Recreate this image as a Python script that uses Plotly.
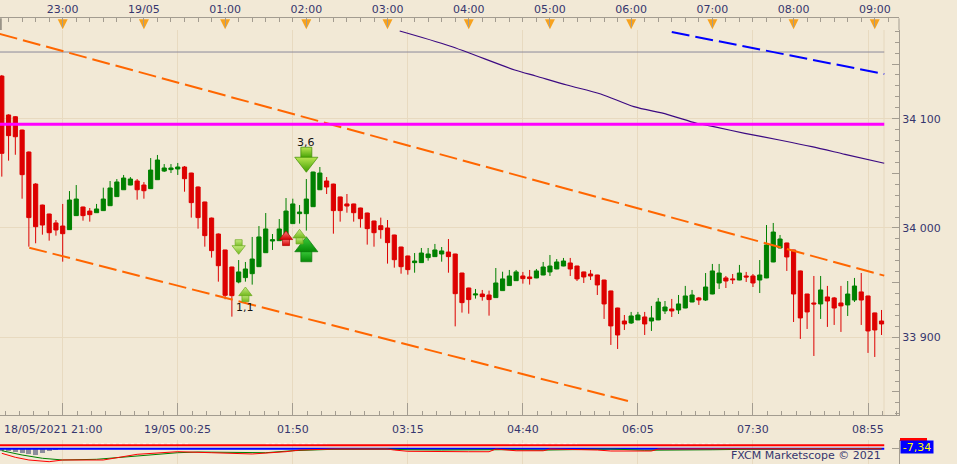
import plotly.graph_objects as go

# ---------------- data ----------------
opens = [34139, 34103.4, 34101.8, 34089.6, 34069.5, 34040.2, 34021, 34012.8, 34004.6, 34001.8,
         33998.5, 34011.3, 34019.2, 34015.5, 34014, 34015.9, 34020.4, 34028.7, 34035, 34039.3,
         34043, 34039.3, 34036, 34044.2, 34052.1, 34053.4, 34054, 34055.8, 34050.3, 34037.5,
         34023.8, 34009.1, 33994.5, 33979.9, 33964.3, 33950.6, 33954.6, 33958.2, 33964.6, 33977.4,
         33988.1, 33988.4, 33993, 34004, 34013.1, 34013.1, 34019.5, 34035, 34043, 34040.2,
         34028.4, 34022, 34022, 34018.3, 34013.7, 34006.4, 34002.1, 34000, 33993.6, 33982.6,
         33974.4, 33968.3, 33968.3, 33972.9, 33973.8, 33976.2, 33978, 33976.2, 33958.8, 33945.1,
         33938.7, 33939.6, 33938.7, 33936.3, 33942.7, 33947.3, 33951.8, 33956.1, 33955.2, 33954.3,
         33957, 33959.8, 33962.5, 33965.2, 33968, 33965.2, 33959.8, 33957.9, 33957, 33952.4,
         33942.4, 33926.8, 33914.9, 33913.1, 33915.9, 33918.6, 33914.9, 33915.9, 33924.1, 33925.9,
         33925, 33926.8, 33932.3, 33936, 33934.1, 33939.6, 33949.7, 33954.3, 33953.4, 33952.4,
         33956.1, 33956.1, 33952.4, 33954.3, 33968.9, 33981.7, 33986.3, 33979.9, 33960.7, 33939.6,
         33931.4, 33930.5, 33936.9, 33936, 33931.4, 33929.6, 33934.1, 33941.5, 33937.8, 33922.3,
         33914.9]
highs = [34140, 34104, 34102.4, 34090, 34070, 34041, 34021.3, 34013, 34007.3, 34022,
         34033.8, 34039.3, 34019.5, 34018.3, 34022, 34036.9, 34043, 34044.8, 34048.5, 34046.6,
         34044.8, 34042, 34064, 34066.8, 34058.5, 34058.5, 34059.5, 34056.7, 34050.5, 34038,
         34024, 34009.5, 33995, 33980, 33964.5, 33970.7, 33968.9, 33991.8, 34001.8, 34013.7,
         33994.5, 34008.2, 34027.4, 34026.8, 34021, 34044.8, 34051.5, 34055.8, 34046.6, 34040.5,
         34028.6, 34031.1, 34022.2, 34018.5, 34014, 34006.6, 34009.5, 34007.3, 33993.8, 33982.8,
         33974.6, 33977.1, 33981.7, 33981.7, 33985.4, 33982.6, 33989.9, 33976.4, 33959, 33945.3,
         33944.2, 33943.3, 33942.7, 33963.4, 33960, 33961.6, 33961.6, 33959.8, 33961.6, 33962.5,
         33968.9, 33975.3, 33971.6, 33972.6, 33972.6, 33965.4, 33960, 33961.6, 33957.2, 33952.6,
         33942.6, 33927, 33920.4, 33923.2, 33923.2, 33923.2, 33928.7, 33936, 33933.2, 33935.1,
         33938.7, 33947, 33943.3, 33936.9, 33958.8, 33967.1, 33967.1, 33956.1, 33957.9, 33966.2,
         33959.8, 33957.9, 33970.7, 34002.7, 34004.6, 33993.6, 33986.5, 33980, 33961, 33939.7,
         33956.1, 33956.1, 33947, 33936.9, 33947, 33951.5, 33954.3, 33958.8, 33938, 33922.5,
         33925]
lows = [34047, 34061.6, 34067, 34026.8, 33982.9, 33986, 33993.9, 33988.4, 33993, 33969.2,
        33998.2, 34011, 34006.7, 34005.8, 34013.8, 34015.6, 34020.2, 34028.5, 34034.8, 34039.1,
        34025.9, 34026.8, 34035.8, 34044, 34051.2, 34050.3, 34048.5, 34033.2, 34009.5, 33999.4,
        33982.9, 33972.9, 33950.9, 33934.8, 33918.9, 33949.4, 33950.9, 33948.2, 33964.4, 33977.2,
        33979.9, 33988.2, 33992.8, 34003.8, 34004, 33997.6, 34019.3, 34034.8, 34031.1, 33994.8,
        34005.8, 34014, 34005.8, 34000.3, 33984.8, 33982.9, 33990.2, 33967.4, 33963.7, 33958.2,
        33957.3, 33959.1, 33968.1, 33970.1, 33973.6, 33969.2, 33959.1, 33910, 33922.6, 33921.6,
        33935.4, 33933.5, 33919.8, 33936.1, 33942.5, 33947.1, 33951.6, 33949.1, 33948.2, 33954.1,
        33956.8, 33956.1, 33962.3, 33965, 33956.1, 33951.5, 33949.7, 33952.4, 33938.7, 33916.8,
        33893, 33889.3, 33906.7, 33912.2, 33915.7, 33902.1, 33905.8, 33915.7, 33921.3, 33918.6,
        33921.3, 33926.6, 33932.1, 33929.6, 33933.2, 33939.4, 33944.2, 33945.1, 33948.8, 33952.2,
        33950.6, 33946, 33940.5, 33954.1, 33968.7, 33981.5, 33960.7, 33914, 33898.5, 33907.6,
        33882.9, 33916.8, 33909.5, 33911.3, 33904.9, 33919.5, 33932.3, 33911.3, 33885.7, 33882,
        33902.1]
closes = [34068.3, 34084.5, 34083.5, 34048.8, 34009.5, 34001.2, 34002.7, 33995.7, 33998.2, 33994.8,
          34025.6, 34026.5, 34011.3, 34012.2, 34017.4, 34026.5, 34036.6, 34042.1, 34045.7, 34044.8,
          34035, 34034.1, 34053, 34062.2, 34054.9, 34054.9, 34055.8, 34045.1, 34023.2, 34009.5,
          33993, 33979.3, 33965.5, 33938.4, 33938.1, 33959.8, 33962.5, 33971.6, 33991.8, 33999.1,
          33989.3, 33999.1, 34015.5, 34022, 34014.6, 34026.5, 34051.2, 34050.3, 34037.5, 34015.9,
          34015.9, 34020.1, 34014, 34008.5, 33999.4, 33995.7, 33998.5, 33986.6, 33971, 33964.6,
          33961.9, 33969.8, 33977.1, 33976.2, 33979.9, 33979, 33973.8, 33939.9, 33931.7, 33934.5,
          33939.6, 33937.2, 33934.5, 33949.7, 33953.4, 33956.1, 33959.8, 33953.7, 33953.7, 33960.7,
          33964.3, 33965.2, 33968.9, 33969.8, 33962.5, 33953.4, 33955.2, 33956.1, 33947.9, 33930.5,
          33910.4, 33902.1, 33912.2, 33919.5, 33920.4, 33912.2, 33917.7, 33932.3, 33927.7, 33924.1,
          33930.5, 33937.8, 33938.7, 33934.1, 33946, 33960.7, 33958.8, 33951.5, 33952.7, 33958.8,
          33955.2, 33949.7, 33957, 33984.5, 33996.3, 33989.9, 33973.5, 33939.6, 33917.7, 33923.2,
          33930.5, 33943.3, 33933.2, 33926.8, 33928.7, 33939.6, 33946.9, 33934.1, 33905.8, 33906.7,
          33912.2]
candle_idx = list(range(len(opens)))

top_tick_idx = [9, 21, 33, 45, 57, 69, 81, 93, 105, 117, 129]
top_tick_text = ['23:00', '19/05', '01:00', '02:00', '03:00', '04:00',
                 '05:00', '06:00', '07:00', '08:00', '09:00']
bottom_tick_idx = [9, 26, 43, 60, 77, 94, 111, 128]
bottom_tick_text = ['18/05/2021 21:00', '19/05 00:25', '01:50', '03:15',
                    '04:40', '06:05', '07:30', '08:55']
price_tick_vals = [33850, 33900, 33950, 34000, 34050, 34100, 34150]
price_tick_text = ['', '33 900', '', '34 000', '', '34 100', '']
price_grid_vals = [33900, 34000, 34100]

channel_top_x = [-0.3, 130.4]
channel_top_y = [34177.6, 33956.4]
channel_bot_x = [4.06, 93.1]
channel_bot_y = [33982.0, 33840.8]
pivot_level = 34095.0
upper_level = 34161.0
level_x = [-0.3, 130.4]
ma_x = [58.8, 66.2, 75.8, 78.9, 83.5, 88.5, 93.4, 98.3, 102.7, 105.2, 109.8, 114.9, 119.7, 124.6, 130.4]
ma_y = [34180.2, 34166.5, 34144.6, 34139.1, 34130.8, 34122.6, 34111, 34104, 34095.8,
        34092.7, 34086.6, 34080.5, 34074.4, 34067.4, 34059.2]
blue_x = [99.0, 130.4]
blue_y = [34179.3, 34140.9]

# signals (tip price at candle index)
sig_idx = [45, 45, 44, 42, 36, 35]
sig_tip = [34051.0, 33992.0, 33998.8, 33997.3, 33946.0, 33975.9]
sig_dir = ['down', 'up', 'up', 'up', 'up', 'down']
sig_big = [True, True, False, False, False, False]
sig_label = ['3,6', '', '', '', '1,1', '']
sig_top = ['#B8E650', '#3CCB3C', '#C8EC80', '#FF8080', '#C8EC80', '#C8EC80']
sig_bot = ['#3E9E00', '#068A06', '#72B81E', '#D00000', '#72B81E', '#72B81E']
sig_edge = ['#3C8C00', '#087808', '#6AA820', '#B00000', '#6AA820', '#6AA820']

# indicator panel
panel_red_level = 0.0
panel_blue_level = -7.34
green_idx = [0, 3, 6, 9, 14, 20, 26, 29, 39, 43, 47, 49, 57, 60, 65, 70, 75, 80, 85, 90, 95, 100, 105, 110, 115, 120, 130]
green_val = [-11.4, -20.2, -26.9, -30.4, -29, -22.2, -15.5, -14.1, -15.5, -11.4, -10, -8.5, -8,
             -9.5, -10, -9.5, -9.3, -10.2, -9, -8, -10.5, -10.5, -9.5, -8.5, -7.6, -7.5, -7.5]
red_idx = [0, 2, 4, 7, 9, 15, 20, 26, 31, 37, 42, 44, 49, 57, 58, 60, 69, 72, 73, 76, 80, 81, 88, 90, 96, 97, 105, 130]
red_val = [-16.7, -24.9, -30.4, -33.9, -30.4, -30.4, -18.8, -13.4, -15.5, -18.1, -13.4, -10, -8,
           -8, -10, -12.6, -13.5, -13.5, -8, -11.5, -11.5, -8, -10, -12, -12, -8, -7.5, -7.5]
hist_idx = [0, 1, 2, 3, 4, 5, 6, 7, 8]
hist_val = [-4, -5, -6, -9, -11, -13, -8, -4, -3]
white_idx = [12, 28, None, 39, 48, None, 75, 85, None, 99, 108]
white_val = [2, 2, None, 2, 2, None, 2, 2, None, 2, 2]

# ---------------- layout geometry (pixels) ----------------
W, H = 957, 464
X_AXIS_R = 899
Y_TOPAXIS = 18.3
Y_TOP, Y_BOT = 30, 415
PANEL_TOP = 440
x_range = [-0.266, 132.58]
y_range = [33828.9, 34181.15]
panel_range = [-38.6, 10.5]
PPU = (Y_BOT - Y_TOP) / (y_range[1] - y_range[0])

BG = '#F2E9D6'
GRID = '#E8DAC0'
AX = '#A39C90'
TXT = '#36366E'
FONT = 'DejaVu Sans'
UP, DN = '#008000', '#DD0000'

fig = go.Figure()

# panel
fig.add_trace(go.Bar(x=hist_idx, y=hist_val, base=panel_blue_level, width=0.75,
                     marker=dict(color='#8C8C9C', line=dict(width=0)), xaxis='x', yaxis='y3'))
fig.add_trace(go.Scatter(x=white_idx, y=white_val, mode='lines', line=dict(color='white', width=1.5, dash='dot'),
                         xaxis='x', yaxis='y3'))
fig.add_trace(go.Scatter(x=level_x, y=[panel_red_level] * 2, mode='lines', line=dict(color='#FF0000', width=2),
                         xaxis='x', yaxis='y3'))
fig.add_trace(go.Scatter(x=level_x, y=[panel_blue_level] * 2, mode='lines', line=dict(color='#0000FF', width=2),
                         xaxis='x', yaxis='y3'))
fig.add_trace(go.Scatter(x=green_idx, y=green_val, mode='lines', line=dict(color='#008000', width=1),
                         xaxis='x', yaxis='y3'))
fig.add_trace(go.Scatter(x=red_idx, y=red_val, mode='lines', line=dict(color='#FF0000', width=1),
                         xaxis='x', yaxis='y3'))

# invisible anchor trace so that the grid axis is drawn
fig.add_trace(go.Scatter(x=[candle_idx[0]], y=[price_grid_vals[1]], mode='markers', marker=dict(opacity=0),
                         hoverinfo='skip', xaxis='x', yaxis='y4'))

# main lines
fig.add_trace(go.Scatter(x=level_x, y=[upper_level] * 2, mode='lines', line=dict(color='#8C8A9A', width=1)))
fig.add_trace(go.Scatter(x=ma_x, y=ma_y, mode='lines',
                         line=dict(color='#3C0A82', width=1.2, shape='spline', smoothing=0.8)))
fig.add_trace(go.Scatter(x=blue_x, y=blue_y, mode='lines', line=dict(color='#0000FF', width=2, dash='18px,6px')))
fig.add_trace(go.Scatter(x=channel_top_x, y=channel_top_y, mode='lines',
                         line=dict(color='#FF6600', width=2, dash='18px,6px')))
fig.add_trace(go.Scatter(x=channel_bot_x, y=channel_bot_y, mode='lines',
                         line=dict(color='#FF6600', width=2, dash='18px,6px')))

fig.add_trace(go.Candlestick(x=candle_idx, open=opens, high=highs, low=lows, close=closes,
                             increasing=dict(line=dict(color=UP, width=1), fillcolor=UP),
                             decreasing=dict(line=dict(color=DN, width=1), fillcolor=DN),
                             whiskerwidth=0, hoverinfo='skip'))
fig.add_trace(go.Scatter(x=level_x, y=[pivot_level] * 2, mode='lines', line=dict(color='#FF00FF', width=3)))

# signal arrows
for k in range(len(sig_idx)):
    s = 20 if sig_big[k] else 11.5
    q = 11 if sig_big[k] else 7
    r = s / 2
    d = 1 if sig_dir[k] == 'up' else -1
    head_c = sig_tip[k] - d * r / PPU
    shaft_c = sig_tip[k] - d * (1.5 * r + q / 2 - 1) / PPU
    grad = dict(type='vertical', color=sig_bot[k])
    fig.add_trace(go.Scatter(x=[sig_idx[k]], y=[shaft_c], mode='markers',
                             marker=dict(symbol='square', size=q, color=sig_top[k], gradient=grad,
                                         line=dict(width=0.7, color=sig_edge[k]))))
    fig.add_trace(go.Scatter(x=[sig_idx[k]], y=[head_c], mode='markers',
                             marker=dict(symbol='triangle-' + sig_dir[k], size=s, color=sig_top[k], gradient=grad,
                                         line=dict(width=0.7, color=sig_edge[k]))))
    if sig_label[k]:
        off = 30 if sig_dir[k] == 'down' else -20
        fig.add_annotation(x=sig_idx[k], y=sig_tip[k], xref='x', yref='y', text=sig_label[k],
                           showarrow=False, yshift=off, font=dict(family=FONT, size=11, color='#151515'))

# hour markers on the top time axis
fig.add_trace(go.Scatter(x=top_tick_idx, y=[29.3] * len(top_tick_idx), mode='markers',
                         marker=dict(symbol='arrow-down', size=10, color='#F7A21E', line=dict(width=0)),
                         hoverinfo='skip', cliponaxis=False, xaxis='x3', yaxis='y5'))

xd = X_AXIS_R / W
fig.update_layout(
    width=W, height=H, margin=dict(l=0, r=0, t=0, b=0, autoexpand=False),
    paper_bgcolor=BG, plot_bgcolor=BG, showlegend=False, boxgap=0.12, bargap=0,
    xaxis=dict(domain=[0, xd], range=x_range, anchor='y', showline=True, linecolor=AX, linewidth=1,
               ticks='inside', tickvals=bottom_tick_idx, ticklen=12, tickcolor=AX, showticklabels=False,
               showgrid=True, gridcolor=GRID, gridwidth=1, zeroline=False,
               minor=dict(tick0=9, dtick=17 / 8, ticklen=4, ticks='inside', tickcolor=AX, showgrid=False),
               rangeslider=dict(visible=False), fixedrange=True),
    xaxis3=dict(domain=[0, xd], range=x_range, anchor='y5', side='top', showline=True, linecolor=AX,
                linewidth=1, ticks='inside', ticklen=9, tickcolor=AX, tickvals=top_tick_idx,
                ticktext=top_tick_text, tickfont=dict(family=FONT, size=11, color=TXT),
                showgrid=False, zeroline=False,
                minor=dict(tick0=9, dtick=2, ticklen=4, ticks='inside', tickcolor=AX, showgrid=False)),
    yaxis=dict(domain=[1 - Y_BOT / H, 1 - Y_TOP / H], range=y_range, side='right', anchor='x',
               showline=True, linecolor=AX, linewidth=1, ticks='inside', ticklen=7, tickcolor=AX,
               tickvals=price_tick_vals, ticktext=price_tick_text,
               tickfont=dict(family=FONT, size=11, color=TXT), showgrid=False, zeroline=False,
               minor=dict(dtick=10, ticklen=4, ticks='inside', tickcolor=AX, showgrid=False)),
    yaxis4=dict(range=y_range, overlaying='y', side='right', anchor='x', tickvals=price_grid_vals,
                showticklabels=False, ticks='', showgrid=True, gridcolor=GRID, showline=False, zeroline=False),
    yaxis3=dict(domain=[0, 1 - PANEL_TOP / H], range=panel_range, side='right', anchor='x',
                showline=True, linecolor=AX, linewidth=1, ticks='inside', ticklen=7, tickcolor=AX,
                tickvals=[panel_blue_level], showticklabels=False, showgrid=False, zeroline=False),
    yaxis5=dict(domain=[1 - Y_TOP / H, 1 - Y_TOPAXIS / H], range=[Y_TOP, Y_TOPAXIS], anchor='x3',
                visible=False),
)

# bottom time labels
for k, (ix, t) in enumerate(zip(bottom_tick_idx, bottom_tick_text)):
    if k == 0:
        fig.add_annotation(x=1.7 / W, xref='paper', y=1 - 429.3 / H, yref='paper', text=t, showarrow=False,
                           xanchor='left', yanchor='middle', font=dict(family=FONT, size=11, color=TXT))
    else:
        fig.add_annotation(x=ix, xref='x', y=1 - 429.3 / H, yref='paper', text=t, showarrow=False,
                           xanchor='center', yanchor='middle', font=dict(family=FONT, size=11, color=TXT))

fig.add_annotation(x=883 / W, xref='paper', y=1 - 455.5 / H, yref='paper', text='FXCM Marketscope © 2021',
                   showarrow=False, xanchor='right', yanchor='middle', font=dict(family=FONT, size=11, color=TXT))

# right-side value label of the panel
fig.add_shape(type='rect', xref='paper', yref='paper', x0=900 / W, x1=927 / W, y0=1 - 441 / H, y1=1 - 438 / H,
              fillcolor='#FF0000', line=dict(width=0))
fig.add_annotation(x=900 / W, xref='paper', y=1 - 446.5 / H, yref='paper', text='-7,34', showarrow=False,
                   xanchor='left', yanchor='middle', bgcolor='#0000FF', borderpad=0, width=32, height=12,
                   font=dict(family=FONT, size=11, color='#FFFF00'))

# frame pieces
fig.add_shape(type='line', xref='paper', yref='paper', x0=884 / W, x1=884 / W, y0=1 - Y_BOT / H, y1=1 - Y_TOP / H,
              line=dict(color='#E6D8BE', width=1), layer='below')
fig.add_shape(type='line', xref='paper', yref='paper', x0=xd, x1=xd, y0=1 - Y_TOP / H, y1=1 - Y_TOPAXIS / H,
              line=dict(color=AX, width=1))
fig.add_shape(type='line', xref='paper', yref='paper', x0=0.8 / W, x1=0.8 / W, y0=1 - Y_TOP / H,
              y1=1 - Y_TOPAXIS / H, line=dict(color='#9A9488', width=2))

fig.write_html('out.html', config={'displayModeBar': False, 'staticPlot': True},
               post_script="document.body.style.margin='0';document.body.style.padding='0';")
